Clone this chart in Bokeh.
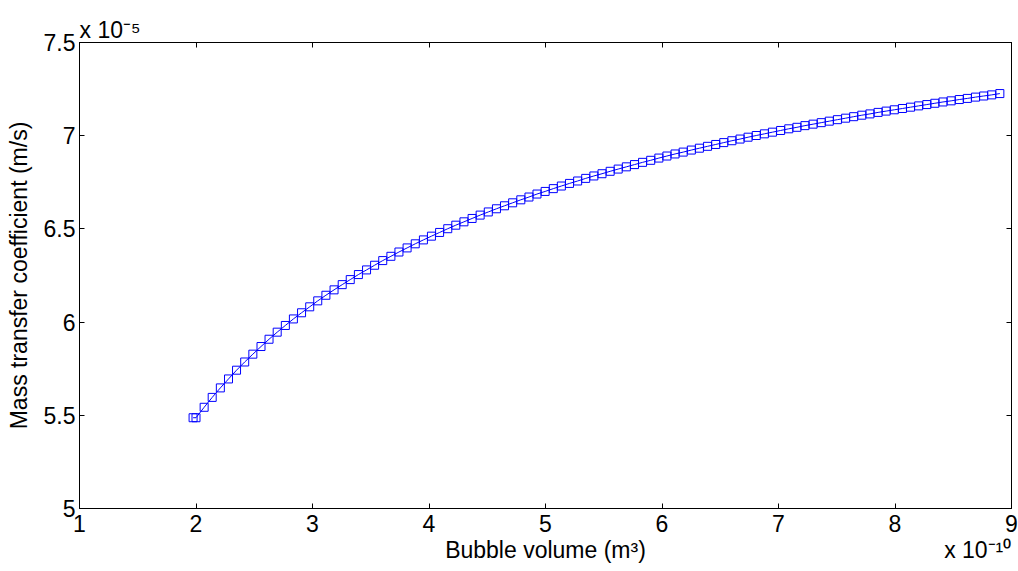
from bokeh.plotting import figure
from bokeh.models import Range1d, FixedTicker, LinearAxis, CustomJSTickFormatter, ColumnDataSource
from bokeh.embed import file_html
from bokeh.resources import INLINE

# Bubble volume (x 1e-10 m^3)
volume = [1.975, 2.000, 2.070, 2.139, 2.209, 2.279, 2.348, 2.418, 2.488, 2.558, 2.627,
          2.697, 2.767, 2.836, 2.906, 2.976, 3.045, 3.115, 3.185, 3.255, 3.324,
          3.394, 3.464, 3.533, 3.603, 3.673, 3.742, 3.812, 3.882, 3.952, 4.021,
          4.091, 4.161, 4.230, 4.300, 4.370, 4.439, 4.509, 4.579, 4.648, 4.718,
          4.788, 4.858, 4.927, 4.997, 5.067, 5.136, 5.206, 5.276, 5.345, 5.415,
          5.485, 5.555, 5.624, 5.694, 5.764, 5.833, 5.903, 5.973, 6.042, 6.112,
          6.182, 6.252, 6.321, 6.391, 6.461, 6.530, 6.600, 6.670, 6.739, 6.809,
          6.879, 6.948, 7.018, 7.088, 7.158, 7.227, 7.297, 7.367, 7.436, 7.506,
          7.576, 7.645, 7.715, 7.785, 7.855, 7.924, 7.994, 8.064, 8.133, 8.203,
          8.273, 8.342, 8.412, 8.482, 8.552, 8.621, 8.691, 8.761, 8.830, 8.900]

# Mass transfer coefficient (x 1e-5 m/s)
kl = [5.487, 5.487, 5.543, 5.596, 5.647, 5.695, 5.742, 5.786, 5.828, 5.869, 5.908,
      5.946, 5.982, 6.017, 6.050, 6.082, 6.114, 6.144, 6.173, 6.201, 6.228,
      6.255, 6.280, 6.305, 6.330, 6.353, 6.376, 6.398, 6.420, 6.441, 6.461,
      6.481, 6.501, 6.520, 6.538, 6.556, 6.574, 6.591, 6.608, 6.624, 6.640,
      6.656, 6.671, 6.687, 6.701, 6.716, 6.730, 6.744, 6.757, 6.771, 6.784,
      6.796, 6.809, 6.821, 6.833, 6.845, 6.857, 6.868, 6.880, 6.891, 6.902,
      6.912, 6.923, 6.933, 6.943, 6.953, 6.963, 6.973, 6.982, 6.992, 7.001,
      7.010, 7.019, 7.028, 7.037, 7.045, 7.054, 7.062, 7.070, 7.078, 7.086,
      7.094, 7.102, 7.110, 7.117, 7.125, 7.132, 7.139, 7.146, 7.153, 7.160,
      7.167, 7.174, 7.181, 7.187, 7.194, 7.200, 7.207, 7.213, 7.219, 7.226]

x_ticks = [1, 2, 3, 4, 5, 6, 7, 8, 9]
y_ticks = [5, 5.5, 6, 6.5, 7, 7.5]
x_label = "Bubble volume (m³)"
y_label = "Mass transfer coefficient (m/s)"
x_exponent = "x 10⁻¹⁰"
y_exponent = "x 10⁻⁵"
# positions (in x-axis units) of the bottom text row: axis title and exponent
bottom_text_pos = [5.0, 8.71]
bottom_text = [x_label, x_exponent]

FONT = "Liberation Sans"
FS = "23px"

p = figure(width=1018, height=571, output_backend="svg", toolbar_location=None,
           x_range=Range1d(1, 9), y_range=Range1d(5, 7.5),
           min_border_left=79, min_border_right=7, min_border_top=42, min_border_bottom=63,
           y_axis_label=y_label)
p.grid.visible = False
p.background_fill_color = "white"
p.border_fill_color = "white"
p.outline_line_color = "black"
p.outline_line_width = 1

# exponent of the y axis, MATLAB style, top-left above the box
p.title.text = y_exponent
p.title.align = "left"
p.title.offset = 0
p.title.standoff = 0
p.title.text_font = FONT
p.title.text_font_size = FS
p.title.text_font_style = "normal"
p.title.text_color = "black"

fmt = CustomJSTickFormatter(code="return tick.toString();")
blank = CustomJSTickFormatter(code="return '';")

for ax, ticks in ((p.xaxis[0], x_ticks), (p.yaxis[0], y_ticks)):
    ax.ticker = FixedTicker(ticks=ticks)
    ax.formatter = fmt
    ax.major_tick_in = 5
    ax.major_tick_out = 0
    ax.minor_tick_line_color = None
    ax.axis_line_color = "black"
    ax.major_tick_line_color = "black"
    ax.major_label_text_font = FONT
    ax.major_label_text_font_size = FS
    ax.major_label_text_color = "black"
    ax.axis_label_text_font = FONT
    ax.axis_label_text_font_size = FS
    ax.axis_label_text_font_style = "normal"
    ax.axis_label_text_color = "black"

p.xaxis[0].major_label_standoff = 6
p.yaxis[0].major_label_standoff = 4
p.yaxis[0].axis_label_standoff = 9

# second text row under the x axis: axis title and the x exponent
row = LinearAxis(ticker=FixedTicker(ticks=bottom_text_pos),
                 formatter=CustomJSTickFormatter(args=dict(labels=bottom_text),
                                                 code="return labels[index];"),
                 major_tick_in=0, major_tick_out=0, minor_tick_line_color=None,
                 major_tick_line_color=None, axis_line_color=None,
                 major_label_standoff=2, major_label_text_font=FONT,
                 major_label_text_font_size=FS, major_label_text_color="black")
p.add_layout(row, "below")

right = LinearAxis(ticker=FixedTicker(ticks=y_ticks), formatter=blank,
                   major_tick_in=5, major_tick_out=0, minor_tick_line_color=None,
                   major_label_standoff=0, major_label_text_font_size="1px")
top = LinearAxis(ticker=FixedTicker(ticks=x_ticks), formatter=blank,
                 major_tick_in=5, major_tick_out=0, minor_tick_line_color=None,
                 major_label_standoff=0, major_label_text_font_size="1px")
p.add_layout(right, "right")
p.add_layout(top, "above")

src = ColumnDataSource(dict(v=volume, k=kl))
p.line("v", "k", source=src, line_color="#0000ff", line_width=1)
p.scatter("v", "k", source=src, marker="square", size=8, fill_alpha=0,
          line_color="#0000ff", line_width=1)

open("out.html", "w").write(file_html(p, INLINE))
